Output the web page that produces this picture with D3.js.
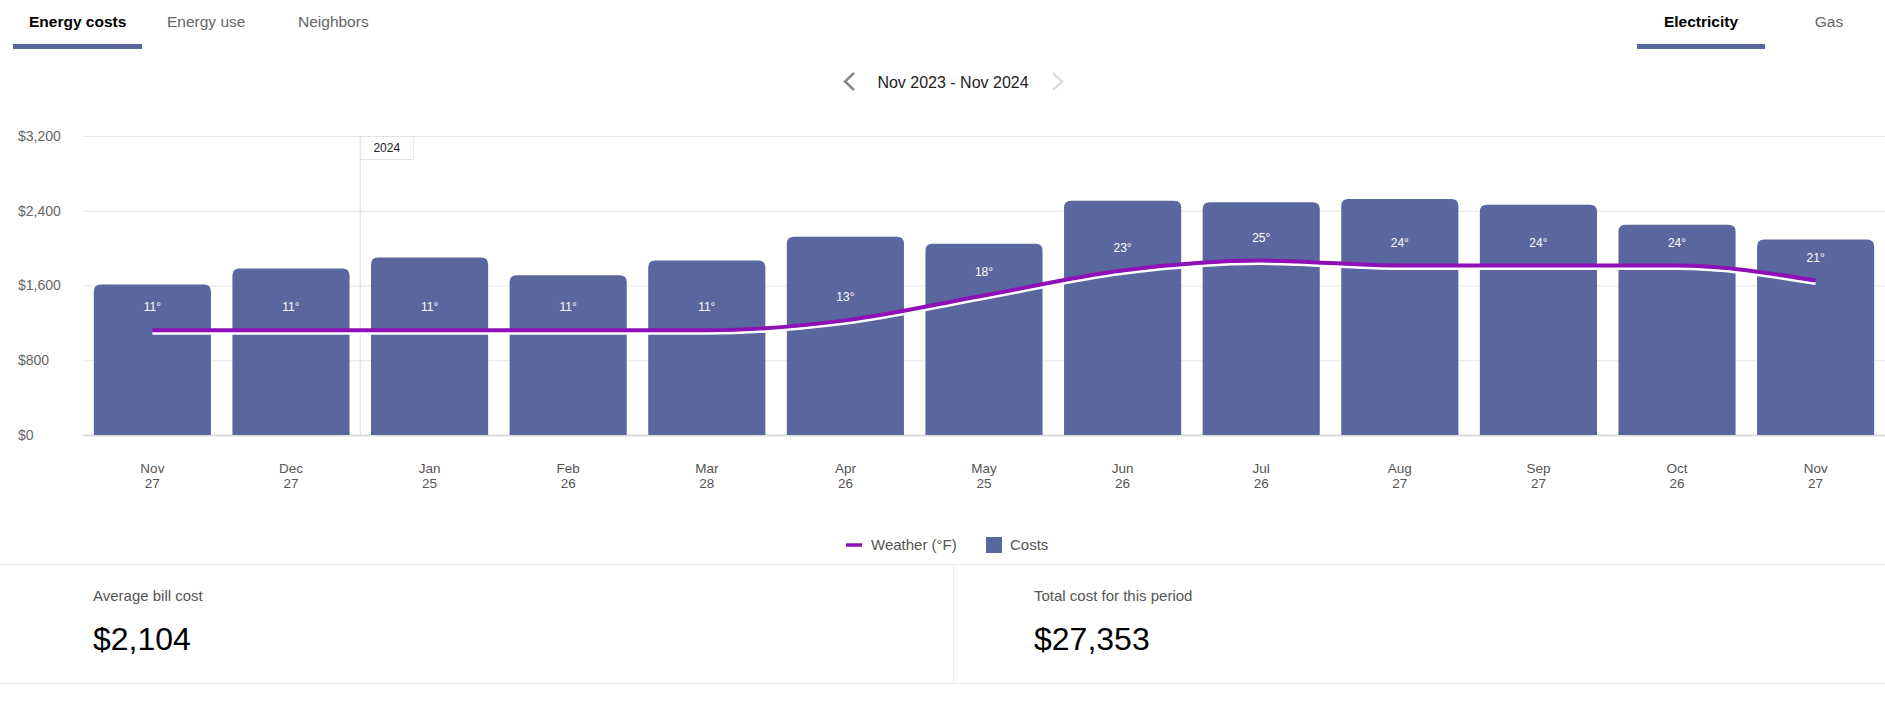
<!DOCTYPE html>
<html>
<head>
<meta charset="utf-8">
<script src="https://cdn.jsdelivr.net/npm/d3@7"></script>
<style>
  body { margin: 0; background: #fff; }
  svg { display: block; font-family: "Liberation Sans", Arial, sans-serif; }
</style>
</head>
<body>
<svg></svg>
<script>
// Data
const periods = ["Nov 2023", "Dec 2023", "Jan 2024", "Feb 2024", "Mar 2024", "Apr 2024", "May 2024",
    "Jun 2024", "Jul 2024", "Aug 2024", "Sep 2024", "Oct 2024", "Nov 2024"]
const monthLabels = ["Nov", "Dec", "Jan", "Feb", "Mar", "Apr", "May", "Jun", "Jul", "Aug", "Sep", "Oct", "Nov"]
const dayLabels = ["27", "27", "25", "26", "28", "26", "25", "26", "26", "27", "27", "26", "27"]
const costs = [1611, 1781, 1899, 1709, 1867, 2123, 2048, 2507, 2490, 2525, 2464, 2251, 2091]
const weather = [11, 11, 11, 11, 11, 13, 18, 23, 25, 24, 24, 24, 21]
const yTicks = [0, 800, 1600, 2400, 3200]
const tabsLeft = ["Energy costs", "Energy use", "Neighbors"]
const tabsRight = ["Electricity", "Gas"]
const rangeLabel = "Nov 2023 - Nov 2024"
const yearLabel = "2024"
const summaryLabels = ["Average bill cost", "Total cost for this period"]
const summaryValues = ["$2,104", "$27,353"]

const width = 1885
const height = 728

const barColor = "#5a679e"
const lineColor = "#8e10b6"
const gridColor = "#e6e6e6"

const svg = d3.select("svg")
    .attr("width", width)
    .attr("height", height)

const data = periods.map((p, i) => ({ period: p, cost: costs[i], temp: weather[i] }))

// Scales
const plot = { left: 83, right: 1885, top: 136, bottom: 435 }

const xScale = d3.scaleBand()
    .domain(periods)
    .range([plot.left, plot.right])
    .paddingInner(0.155)
    .paddingOuter(0.078)

const yScale = d3.scaleLinear()
    .domain([0, 3200])
    .range([plot.bottom, plot.top])

// hidden axis for the weather line
const tempScale = d3.scaleLinear()
    .domain([-10, 50])
    .range([plot.bottom, plot.top])

// Tabs
const tabX = [29, 167, 298]
tabsLeft.forEach((t, i) => {
    svg.append("text")
        .attr("x", tabX[i]).attr("y", 27)
        .attr("font-size", "15.5px")
        .attr("font-weight", i === 0 ? "bold" : "normal")
        .attr("fill", i === 0 ? "#000" : "#666")
        .text(t)
})
svg.append("rect").attr("x", 13).attr("y", 44).attr("width", 129).attr("height", 5).attr("fill", barColor)

const tabRX = [1701, 1829]
tabsRight.forEach((t, i) => {
    svg.append("text")
        .attr("x", tabRX[i]).attr("y", 27)
        .attr("text-anchor", "middle")
        .attr("font-size", "15.5px")
        .attr("font-weight", i === 0 ? "bold" : "normal")
        .attr("fill", i === 0 ? "#000" : "#666")
        .text(t)
})
svg.append("rect").attr("x", 1637).attr("y", 44).attr("width", 128).attr("height", 5).attr("fill", barColor)

// Date navigation
svg.append("path")
    .attr("d", "M854,73 L845,81.5 L854,90")
    .attr("fill", "none").attr("stroke", "#888").attr("stroke-width", 2.5)
svg.append("path")
    .attr("d", "M1053,73 L1062,81.5 L1053,90")
    .attr("fill", "none").attr("stroke", "#ddd").attr("stroke-width", 2.5)
svg.append("text")
    .attr("x", 953).attr("y", 88)
    .attr("text-anchor", "middle")
    .attr("font-size", "16px")
    .attr("fill", "#222")
    .text(rangeLabel)

// Grid + y axis
const yAxis = d3.axisLeft(yScale)
    .tickValues(yTicks)
    .tickSize(-(plot.right - plot.left))
    .tickFormat(d => "$" + d3.format(",")(d))

const yAxisG = svg.append("g")
    .attr("transform", `translate(${plot.left},0)`)
    .call(yAxis)

yAxisG.select(".domain").remove()
yAxisG.selectAll(".tick line")
    .attr("stroke", d => d === 0 ? "#dcdcdc" : gridColor)
    .attr("stroke-width", d => d === 0 ? 2 : 1)
yAxisG.selectAll(".tick text")
    .attr("x", 18 - plot.left)
    .attr("text-anchor", "start")
    .attr("font-size", "14px")
    .attr("font-family", "Liberation Sans, Arial, sans-serif")
    .attr("fill", "#666")

// Year divider
const step = xScale.step()
const yearX = xScale("Jan 2024") - step * xScale.paddingInner() / 2
svg.append("line")
    .attr("x1", yearX).attr("x2", yearX)
    .attr("y1", plot.top).attr("y2", plot.bottom)
    .attr("stroke", "#ddd")
svg.append("rect")
    .attr("x", yearX).attr("y", plot.top + 0.5)
    .attr("width", 53).attr("height", 23)
    .attr("fill", "#fff").attr("stroke", "#e2e2e2")
svg.append("text")
    .attr("x", yearX + 26.5).attr("y", plot.top + 16)
    .attr("text-anchor", "middle")
    .attr("font-size", "12px")
    .attr("fill", "#222")
    .text(yearLabel)

// Bars with rounded tops
const r = 7
const barPath = d => {
    const x0 = xScale(d.period)
    const x1 = x0 + xScale.bandwidth()
    const top = yScale(d.cost)
    const base = yScale(0)
    return `M${x0},${base} V${top + r} Q${x0},${top} ${x0 + r},${top} H${x1 - r} Q${x1},${top} ${x1},${top + r} V${base} Z`
}

svg.append("g").selectAll("path")
    .data(data)
    .enter()
    .append("path")
    .attr("d", barPath)
    .attr("fill", barColor)

// Weather line
const lineGenerator = d3.line()
    .x(d => xScale(d.period) + xScale.bandwidth() / 2)
    .y(d => tempScale(d.temp))
    .curve(d3.curveMonotoneX)

svg.append("path")
    .attr("d", lineGenerator(data))
    .attr("transform", "translate(0,3)")
    .attr("fill", "none")
    .attr("stroke", "#fff")
    .attr("stroke-width", 3)

svg.append("path")
    .attr("d", lineGenerator(data))
    .attr("fill", "none")
    .attr("stroke", lineColor)
    .attr("stroke-width", 4)

svg.append("g").selectAll("text")
    .data(data)
    .enter()
    .append("text")
    .attr("x", d => xScale(d.period) + xScale.bandwidth() / 2)
    .attr("y", d => tempScale(d.temp) - 19)
    .attr("text-anchor", "middle")
    .attr("font-size", "12px")
    .attr("fill", "#fff")
    .text(d => d.temp + "°")

// X axis (two line labels)
const xAxis = d3.axisBottom(xScale).tickSize(0).tickFormat("")
const xAxisG = svg.append("g")
    .attr("transform", `translate(0,${plot.bottom})`)
    .call(xAxis)
xAxisG.select(".domain").remove()
xAxisG.selectAll(".tick").each(function (d, i) {
    const t = d3.select(this).append("text")
        .attr("text-anchor", "middle")
        .attr("font-size", "13.5px")
        .attr("font-family", "Liberation Sans, Arial, sans-serif")
        .attr("fill", "#555")
    t.append("tspan").attr("x", 0).attr("y", 38).text(monthLabels[i])
    t.append("tspan").attr("x", 0).attr("y", 53).text(dayLabels[i])
})

// Legend
const legend = svg.append("g").attr("font-size", "15px").attr("fill", "#555")
legend.append("line")
    .attr("x1", 846).attr("x2", 862).attr("y1", 545).attr("y2", 545)
    .attr("stroke", lineColor).attr("stroke-width", 3.5)
legend.append("text").attr("x", 871).attr("y", 550).text("Weather (°F)")
legend.append("rect")
    .attr("x", 986).attr("y", 537).attr("width", 16).attr("height", 16)
    .attr("fill", barColor)
legend.append("text").attr("x", 1010).attr("y", 550).text("Costs")

// Summary panel
svg.append("line").attr("x1", 0).attr("x2", width).attr("y1", 564.5).attr("y2", 564.5).attr("stroke", "#eee")
svg.append("line").attr("x1", 0).attr("x2", width).attr("y1", 683.5).attr("y2", 683.5).attr("stroke", "#eee")
svg.append("line").attr("x1", 953.5).attr("x2", 953.5).attr("y1", 564).attr("y2", 683).attr("stroke", "#eee")

const summaryX = [93, 1034]
summaryLabels.forEach((s, i) => {
    svg.append("text")
        .attr("x", summaryX[i]).attr("y", 601)
        .attr("font-size", "15px")
        .attr("fill", "#555")
        .text(s)
    svg.append("text")
        .attr("x", summaryX[i]).attr("y", 650)
        .attr("font-size", "32px")
        .attr("fill", "#000")
        .text(summaryValues[i])
})
</script>
</body>
</html>
